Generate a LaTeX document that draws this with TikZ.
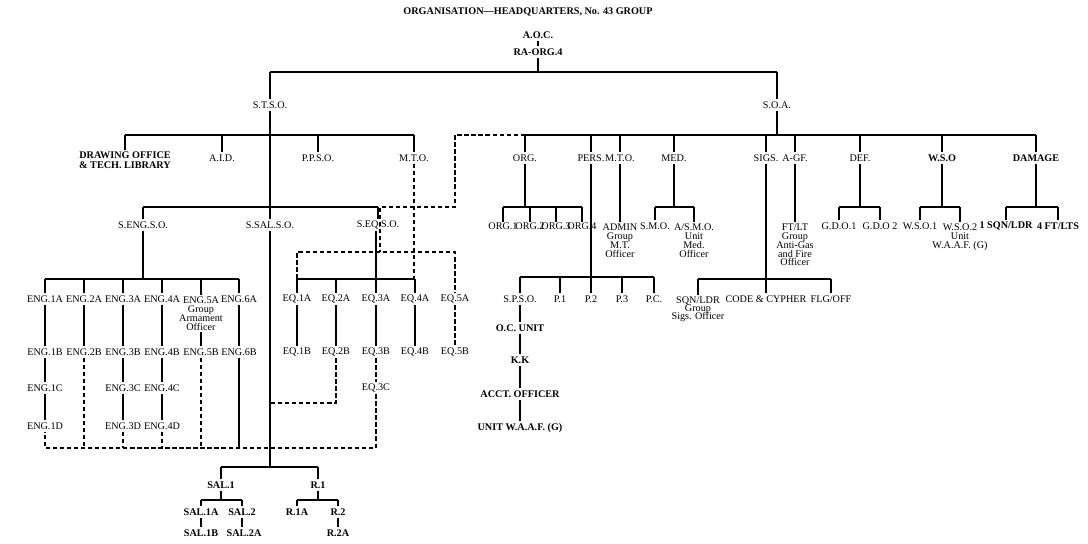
\documentclass[tikz,border=0pt]{standalone}
\usepackage{fontspec}
\setmainfont{Liberation Serif}
\begin{document}
\begin{tikzpicture}[x=0.02cm,y=-0.02cm,
  lab/.style={font=\fontsize{5.8}{6.5}\selectfont, inner sep=1pt, align=center},
  blab/.style={lab, font=\fontsize{5.8}{6.5}\selectfont\bfseries},
  bl/.style={line width=0.75pt},
  dl/.style={line width=0.75pt, dash pattern=on 2.5pt off 1.5pt}]
\newcommand\mydn[2]{\draw[bl] (#1.north) -- (#1.north |- #2);}
\newcommand\mylk[2]{\draw[bl] (#1.south) -- (#1.south |- #2.north);}
\useasboundingbox (0,0) rectangle (1088,544);
% ---------- top
\node[blab] (title) at (528,12) {ORGANISATION---HEADQUARTERS, No. 43 GROUP};
\node[blab] (aoc) at (538,35) {A.O.C.};
\node[blab] (ra) at (538,52) {RA-ORG.4};
\node[lab] (stso) at (270,105) {S.T.S.O.};
\node[lab] (soa) at (777,105) {S.O.A.};
\mylk{aoc}{ra}
\coordinate (b0) at (538,72);
\draw[bl] (ra.south) -- (b0);
\draw[bl] (stso.north |- b0) -- (soa.north |- b0);
\mydn{stso}{b0}\mydn{soa}{b0}
% ---------- STSO
\node[blab] (dro) at (125,160) {DRAWING OFFICE\\[-1pt]\& TECH. LIBRARY};
\node[lab] (aid) at (222,158) {A.I.D.};
\node[lab] (ppso) at (318,158) {P.P.S.O.};
\node[lab] (mto) at (414,158) {M.T.O.};
\coordinate (b1) at (270,135);
\draw[bl] (dro.north |- b1) -- (mto.north |- b1);
\mydn{dro}{b1}\mydn{aid}{b1}\mydn{ppso}{b1}\mydn{mto}{b1}
\node[lab] (seng) at (143,225) {S.ENG.S.O.};
\node[lab] (ssal) at (270,225) {S.SAL.S.O.};
\node[lab] (seq) at (378,225) {S.EQ.S.O.};
\coordinate (b2) at (270,207);
\draw[bl] (seng.north |- b2) -- (seq.north |- b2);
\mydn{seng}{b2}\mydn{seq}{b2}
\mylk{stso}{ssal}
\coordinate (sb) at (270,467);
\draw[bl] (ssal.south) -- (sb);
% ENG
\foreach \i/\x in {1/45,2/84,3/123,4/162,6/239}
  \node[lab] (e\i a) at (\x,299) {ENG.\i A};
\node[lab,anchor=north] (e5a) at (201,295) {ENG.5A\\[-1.5pt]Group\\[-1.5pt]Armament\\[-1.5pt]Officer};
\foreach \i/\x in {1/45,2/84,3/123,4/162,5/201,6/239}
  \node[lab] (e\i b) at (\x,352) {ENG.\i B};
\foreach \i/\x in {1/45,3/123,4/162}{
  \node[lab] (e\i c) at (\x,388) {ENG.\i C};
  \node[lab] (e\i d) at (\x,426) {ENG.\i D};}
\coordinate (b3) at (143,279);
\draw[bl] (seng.south) -- (b3);
\draw[bl] (e1a.north |- b3) -- (e6a.north |- b3);
\foreach \i in {1,2,3,4,5,6}{\mydn{e\i a}{b3}\mylk{e\i a}{e\i b}}
\foreach \i in {1,3,4}{\mylk{e\i b}{e\i c}\mylk{e\i c}{e\i d}}
% EQ
\foreach \i/\x in {1/297,2/336,3/376,4/415,5/455}{
  \node[lab] (q\i a) at (\x,299) {EQ.\i A};
  \node[lab] (q\i b) at (\x,352) {EQ.\i B};}
\node[lab] (q3c) at (376,388) {EQ.3C};
\coordinate (b4) at (376,279);
\draw[bl] (seq.south -| b4) -- (b4);
\draw[bl] (q1a.north |- b4) -- (q4a.north |- b4);
\foreach \i in {1,2,3,4}{\mydn{q\i a}{b4}\mylk{q\i a}{q\i b}}
\draw[dl] (q5a.south) -- (q5b.north);
\draw[dl] (q3b.south) -- (q3c.north);
% dashed links
\coordinate (d0) at (525,135);
\coordinate (d1) at (455,207);
\coordinate (d2) at (380,252);
\draw[dl] (d0) -- (455,135) -- (d1) -- (380,207) -- (d2);
\draw[dl] (q1a.north) -- (q1a.north |- d2) -- (q5a.north |- d2) -- (q5a.north);
\draw[dl] (mto.south) -- (mto.south |- b4);
\coordinate (d3) at (270,403);
\draw[dl] (q2b.south) -- (q2b.south |- d3) -- (d3);
\coordinate (d4) at (378,448);
\draw[dl] (q3c.south) -- (q3c.south |- d4) -- (e1d.south |- d4) -- (e1d.south);
\foreach \n in {e2b,e3d,e4d,e5b}{\draw[dl] (\n.south) -- (\n.south |- d4);}
\draw[bl] (e6b.south) -- (e6b.south |- d4);
% SAL / R
\node[blab] (sal1) at (221,485) {SAL.1};
\node[blab] (r1) at (318,485) {R.1};
\draw[bl] (sal1.north |- sb) -- (r1.north |- sb);
\mydn{sal1}{sb}\mydn{r1}{sb}
\node[blab] (sal1a) at (201,512) {SAL.1A};
\node[blab] (sal2) at (242,512) {SAL.2};
\node[blab] (sal1b) at (201,533) {SAL.1B};
\node[blab] (sal2a) at (244,533) {SAL.2A};
\node[blab] (r1a) at (297,512) {R.1A};
\node[blab] (r2) at (338,512) {R.2};
\node[blab] (r2a) at (338,533) {R.2A};
\coordinate (b5) at (221,500); \coordinate (b6) at (318,500);
\draw[bl] (sal1.south) -- (b5); \draw[bl] (sal1a.north |- b5) -- (sal2.north |- b5);
\mydn{sal1a}{b5}\mydn{sal2}{b5}
\draw[bl] (r1.south) -- (b6); \draw[bl] (r1a.north |- b6) -- (r2.north |- b6);
\mydn{r1a}{b6}\mydn{r2}{b6}
\mylk{sal1a}{sal1b}\mylk{sal2}{sal2a}\mylk{r2}{r2a}
% ---------- SOA
\coordinate (c1) at (777,135);
\draw[bl] (soa.south) -- (c1);
\node[lab] (org) at (525,158) {ORG.};
\node[lab] (pers) at (591,158) {PERS.};
\node[lab] (mto2) at (620,158) {M.T.O.};
\node[lab] (med) at (674,158) {MED.};
\node[lab] (sigs) at (766,158) {SIGS.};
\node[lab] (agf) at (795,158) {A-GF.};
\node[lab] (def) at (860,158) {DEF.};
\node[blab] (wso) at (942,158) {W.S.O};
\node[blab] (dam) at (1036,158) {DAMAGE};
\draw[bl] (org.north |- c1) -- (dam.north |- c1);
\foreach \n in {org,pers,mto2,med,sigs,agf,def,wso,dam}{\mydn{\n}{c1}}
% ORG
\coordinate (c2) at (525,207);
\foreach \i/\x in {1/503,2/530,3/556,4/582}\node[lab,inner sep=0pt] (o\i) at (\x,226) {ORG.\i};
\draw[bl] (org.south) -- (c2);
\draw[bl] (o1.north |- c2) -- (o4.north |- c2);
\foreach \i in {1,2,3,4}{\mydn{o\i}{c2}}
% MTO
\node[lab,anchor=north] (admin) at (620,222) {ADMIN\\[-1.5pt]Group\\[-1.5pt]M.T.\\[-1.5pt]Officer};
\mylk{mto2}{admin}
% MED
\coordinate (c3) at (674,207);
\node[lab] (smo) at (655,226) {S.M.O.};
\node[lab,anchor=north] (asmo) at (694,222) {A/S.M.O.\\[-1.5pt]Unit\\[-1.5pt]Med.\\[-1.5pt]Officer};
\draw[bl] (med.south) -- (c3);
\draw[bl] (smo.north |- c3) -- (asmo.north |- c3);
\mydn{smo}{c3}\mydn{asmo}{c3}
% AGF
\node[lab,anchor=north] (ftlt) at (795,222) {FT/LT\\[-1.5pt]Group\\[-1.5pt]Anti-Gas\\[-1.5pt]and Fire\\[-1.5pt]Officer};
\mylk{agf}{ftlt}
% DEF
\coordinate (c4) at (860,207);
\node[lab] (gdo1) at (839,226) {G.D.O.1};
\node[lab] (gdo2) at (880,226) {G.D.O 2};
\draw[bl] (def.south) -- (c4);
\draw[bl] (gdo1.north |- c4) -- (gdo2.north |- c4);
\mydn{gdo1}{c4}\mydn{gdo2}{c4}
% WSO
\coordinate (c5) at (942,207);
\node[lab] (wso1) at (920,226) {W.S.O.1};
\node[lab,anchor=north] (wso2) at (960,222) {W.S.O.2\\[-1.5pt]Unit\\[-1.5pt]W.A.A.F. (G)};
\draw[bl] (wso.south) -- (c5);
\draw[bl] (wso1.north |- c5) -- (wso2.north |- c5);
\mydn{wso1}{c5}\mydn{wso2}{c5}
% DAMAGE
\coordinate (c6) at (1036,207);
\node[blab] (sqn) at (1006,226) {1 SQN/LDR};
\node[blab] (ftl) at (1058,226) {4 FT/LTS};
\draw[bl] (dam.south) -- (c6);
\draw[bl] (sqn.north |- c6) -- (ftl.north |- c6);
\mydn{sqn}{c6}\mydn{ftl}{c6}
% PERS
\coordinate (c7) at (591,277);
\node[lab] (spso) at (520,299) {S.P.S.O.};
\foreach \n/\t/\x in {p1/P.1/560,p2/P.2/591,p3/P.3/622,pc/P.C./654}\node[lab] (\n) at (\x,299) {\t};
\draw[bl] (pers.south) -- (c7);
\draw[bl] (spso.north |- c7) -- (pc.north |- c7);
\foreach \n in {spso,p1,p2,p3,pc}{\mydn{\n}{c7}}
\node[blab] (ocu) at (520,328) {O.C. UNIT};
\node[blab] (kk) at (520,360) {K.K};
\node[blab] (acct) at (520,394) {ACCT. OFFICER};
\node[blab] (uw) at (520,428) {UNIT W.A.A.F. (G)};
\mylk{spso}{ocu}\mylk{ocu}{kk}\mylk{kk}{acct}\mylk{acct}{uw}
% SIGS
\coordinate (c8) at (766,279);
\node[lab,anchor=north] (sqls) at (698,295) {SQN/LDR\\[-2pt]Group\\[-2pt]Sigs. Officer};
\node[lab] (code) at (766,299) {CODE \& CYPHER};
\node[lab] (flg) at (831,299) {FLG/OFF};
\draw[bl] (sigs.south) -- (c8);
\draw[bl] (sqls.north |- c8) -- (flg.north |- c8);
\mydn{sqls}{c8}\mydn{code}{c8}\mydn{flg}{c8}
\end{tikzpicture}
\end{document}
